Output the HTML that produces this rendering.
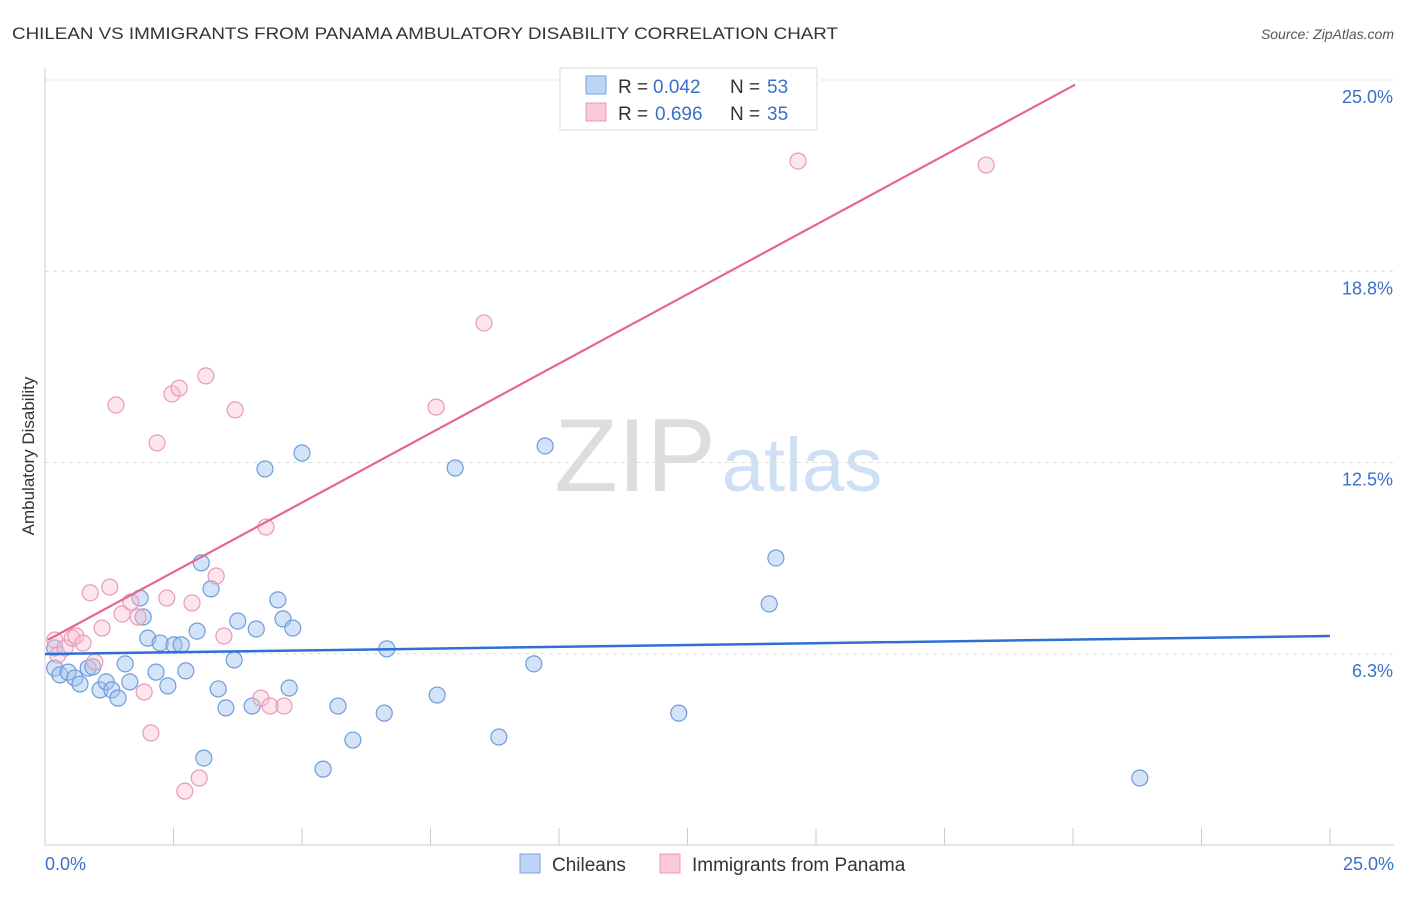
<!DOCTYPE html>
<html><head><meta charset="utf-8">
<style>
body{margin:0;background:#fff;font-family:"Liberation Sans",sans-serif;}
svg text{font-family:"Liberation Sans",sans-serif;}
</style></head>
<body>
<svg id="chart" width="1406" height="892">
<text x="12" y="39" font-size="17" fill="#333" textLength="826" lengthAdjust="spacingAndGlyphs">CHILEAN VS IMMIGRANTS FROM PANAMA AMBULATORY DISABILITY CORRELATION CHART</text>
<text x="1394" y="39" font-size="14" fill="#555" text-anchor="end" font-style="italic">Source: ZipAtlas.com</text>
<g>
<text x="635" y="491" font-size="104" fill="#ddd" font-family="Liberation Serif" text-anchor="middle">ZIP</text>
<text x="802" y="491" font-size="76" fill="#cfe0f3" text-anchor="middle">atlas</text>
</g>
<g id="grid"></g>
<g id="axes"></g>
<g id="marks"></g>
<text x="34" y="456" font-size="17" fill="#333" text-anchor="middle" transform="rotate(-90 34 456)">Ambulatory Disability</text>
<text x="45" y="870" font-size="18" fill="#3a70c8">0.0%</text>
<text x="1394" y="870" font-size="18" fill="#3a70c8" text-anchor="end">25.0%</text>
<g>
<rect x="560" y="68" width="257" height="62" fill="#fff" stroke="#ddd"/>
<rect x="586" y="76" width="20" height="18" fill="#bcd4f5" stroke="#7aa3e0"/>
<rect x="586" y="103" width="20" height="18" fill="#f9c9d8" stroke="#eb9ab4"/>
<text x="618" y="93" font-size="19" fill="#333">R =</text>
<text x="653" y="93" font-size="19" fill="#3a70c8">0.042</text>
<text x="730" y="93" font-size="19" fill="#333">N =</text>
<text x="767" y="93" font-size="19" fill="#3a70c8">53</text>
<text x="618" y="120" font-size="19" fill="#333">R =</text>
<text x="655" y="120" font-size="19" fill="#3a70c8">0.696</text>
<text x="730" y="120" font-size="19" fill="#333">N =</text>
<text x="767" y="120" font-size="19" fill="#3a70c8">35</text>
</g>
<g>
<rect x="520" y="854" width="20" height="19" fill="#bcd4f5" stroke="#7aa3e0"/>
<text x="552" y="871" font-size="19" fill="#333">Chileans</text>
<rect x="660" y="854" width="20" height="19" fill="#f9c9d8" stroke="#eb9ab4"/>
<text x="692" y="871" font-size="19" fill="#333">Immigrants from Panama</text>
</g>
</svg>
<script>
const yTicks=[25.0,18.8,12.5,6.3];
const yTickVals=[25,18.75,12.5,6.25];
const blueX=[0.19,0.29,0.45,0.58,0.68,0.84,0.93,1.07,1.19,1.30,1.42,1.56,1.65,1.85,1.91,2.00,2.16,2.24,2.39,2.51,2.65,2.74,2.96,3.04,3.09,3.23,3.37,3.52,3.68,3.75,4.11,4.03,4.28,4.53,4.63,4.75,4.82,5.00,5.41,5.70,5.99,6.60,6.65,7.63,7.98,8.83,9.51,9.73,12.33,14.09,14.22,21.30,0.19];
const blueY=[5.78,5.56,5.65,5.46,5.26,5.78,5.82,5.07,5.33,5.07,4.80,5.92,5.33,8.07,7.45,6.76,5.65,6.60,5.20,6.54,6.54,5.69,6.99,9.22,2.84,8.37,5.10,4.48,6.05,7.32,7.06,4.54,12.29,8.01,7.39,5.13,7.09,12.81,2.48,4.54,3.43,4.31,6.41,4.90,12.32,3.53,5.92,13.04,4.31,7.88,9.38,2.19,6.44];
const pinkX=[0.19,0.25,0.39,0.53,0.60,0.74,0.88,0.97,1.11,1.26,1.38,1.50,1.67,1.81,1.93,2.06,2.18,2.37,2.47,2.61,2.72,2.86,3.00,3.13,3.33,3.48,3.70,4.20,4.30,4.38,4.65,7.61,8.54,14.65,18.31];
const pinkY=[6.70,6.21,6.44,6.76,6.83,6.60,8.24,5.98,7.09,8.43,14.38,7.55,7.94,7.45,5.00,3.66,13.14,8.07,14.74,14.93,1.76,7.91,2.19,15.33,8.79,6.83,14.22,4.80,10.39,4.54,4.54,14.31,17.06,22.35,22.22];
const blueTrend=[6.24,6.83];
const pinkTrend=[6.65,0.908,20.04];
const NS='http://www.w3.org/2000/svg';
const X=v=>45+v*51.4, Y=v=>845-v*30.6;
function mk(tag,attrs,parent){const e=document.createElementNS(NS,tag);for(const k in attrs)e.setAttribute(k,attrs[k]);document.getElementById(parent).appendChild(e);return e;}
yTickVals.forEach((v,i)=>{
 const l=mk('line',{x1:45,x2:1394,y1:Y(v),y2:Y(v),stroke:'#ddd','stroke-dasharray':'4,4'},'grid');
 
 
 const t=mk('text',{x:1393,y:Y(v)+23,'font-size':18,fill:'#3a70c8','text-anchor':'end'},'grid');
 t.textContent=yTicks[i].toFixed(1)+'%';
 
 
});
let ax=mk('line',{x1:45,x2:45,y1:68,y2:845,stroke:'#ccc'},'axes');


ax=mk('line',{x1:45,x2:1394,y1:845,y2:845,stroke:'#ccc'},'axes');


for(let i=0;i<=10;i++){const tk=mk('line',{x1:X(i*2.5),x2:X(i*2.5),y1:828,y2:845,stroke:'#ccc'},'axes');
 
 }
blueX.forEach((x,i)=>{const c=mk('circle',{cx:X(x),cy:Y(blueY[i]),r:8,fill:'rgba(160,195,240,0.45)',stroke:'#6f9bd9','stroke-width':1.2},'marks');
 
 });
pinkX.forEach((x,i)=>{const c=mk('circle',{cx:X(x),cy:Y(pinkY[i]),r:8,fill:'rgba(248,190,210,0.4)',stroke:'#e99ab5','stroke-width':1.2},'marks');
 
 });
let tl=mk('line',{x1:X(0),y1:Y(blueTrend[0]),x2:X(25),y2:Y(blueTrend[1]),stroke:'#2f6fd4','stroke-width':2.5},'marks');


tl=mk('line',{x1:X(0.06),y1:Y(pinkTrend[0]+0.06*pinkTrend[1]),x2:X(pinkTrend[2]),y2:Y(pinkTrend[0]+pinkTrend[2]*pinkTrend[1]),stroke:'#e5668f','stroke-width':2.2},'marks');


</script>
</body></html>
